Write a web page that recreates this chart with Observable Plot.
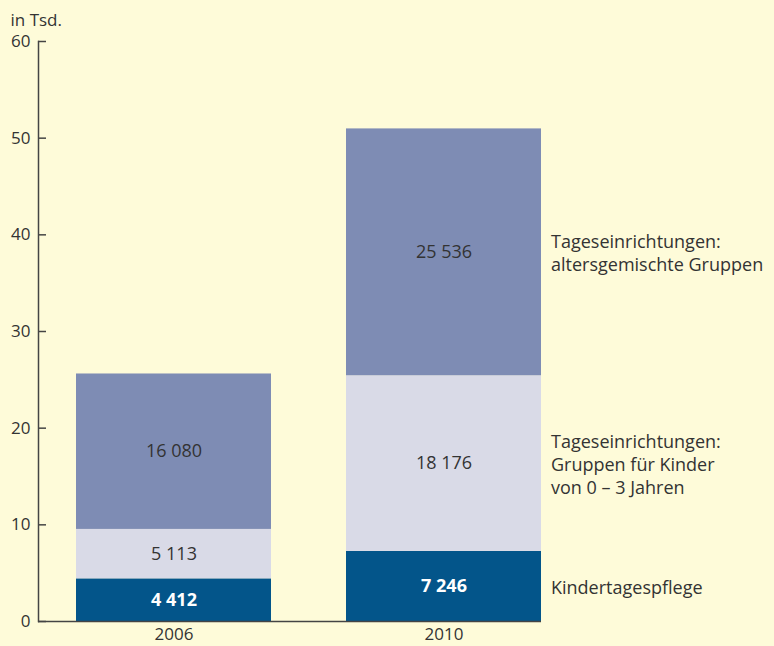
<!DOCTYPE html>
<html><head><meta charset="utf-8">
<script src="https://cdn.jsdelivr.net/npm/d3@7"></script>
<script src="https://cdn.jsdelivr.net/npm/@observablehq/plot@0.6"></script>
<style>
body{margin:0;background:#fefbd9;}
#chart svg{display:block;}
</style>
</head><body><div id="chart"></div>
<script>
const years = ["2006", "2010"];
const categories = [
  "Kindertagespflege",
  "Tageseinrichtungen:\nGruppen für Kinder\nvon 0 – 3 Jahren",
  "Tageseinrichtungen:\naltersgemischte Gruppen"
];
const values2006 = [4412, 5113, 16080];
const values2010 = [7246, 18176, 25536];
const yTicks = [0, 10, 20, 30, 40, 50, 60];
const yLabel = "in Tsd.";
const colors = ["#03558a", "#d9dae7", "#7e8cb4"];

const fmt = d3.formatLocale({thousands: " ", grouping: [3], decimal: ",", currency: ["", ""]}).format(",");
const series = {"2006": values2006, "2010": values2010};
const rows = [];
for (const y of years) {
  series[y].forEach((v, i) => rows.push({year: y, cat: categories[i], i, value: v / 1000, label: fmt(v)}));
}

const font = "'Open Sans', sans-serif";
const ink = "#333333";

const chart = Plot.plot({
  width: 774,
  height: 646,
  marginLeft: 38,
  marginRight: 233,
  marginTop: 41,
  marginBottom: 25,
  style: {background: "#fefbd9", fontFamily: font, fontSize: "17px", color: ink},
  x: {domain: years, range: [76, 541], paddingInner: 75 / 270, paddingOuter: 0, label: null},
  y: {domain: [0, 60], label: null},
  color: {domain: categories, range: colors},
  marks: [
    Plot.barY(rows, Plot.stackY({x: "year", y: "value", fill: "cat"})),
    Plot.text(rows, Plot.filter(d => d.i === 0, Plot.stackY({x: "year", y: "value", text: "label", fill: "#ffffff", fontWeight: "bold", fontSize: 18}))),
    Plot.text(rows, Plot.filter(d => d.i !== 0, Plot.stackY({x: "year", y: "value", text: "label", fill: ink, fontSize: 18}))),
    Plot.text(rows, Plot.filter(d => d.year === "2010", Plot.stackY({x: "year", y: "value", text: "cat", textAnchor: "start", dx: 107, fill: ink, fontSize: 18, lineHeight: 1.28}))),
    Plot.axisY({ticks: yTicks, tickSize: -8, tickPadding: 16, stroke: "#444", strokeWidth: 1.5, fontSize: 17, fill: ink}),
    Plot.axisX({tickSize: 0, tickPadding: 6, fontSize: 17, fill: ink}),
    Plot.frame({anchor: "left", stroke: "#444", strokeWidth: 1.5}),
    Plot.ruleY([0], {stroke: "#444", strokeWidth: 1.5}),
    Plot.text([yLabel], {frameAnchor: "top-left", dx: -28, dy: -16, textAnchor: "start", lineAnchor: "bottom", fill: ink, fontSize: 17})
  ]
});
document.getElementById("chart").appendChild(chart);
</script>
</body></html>
